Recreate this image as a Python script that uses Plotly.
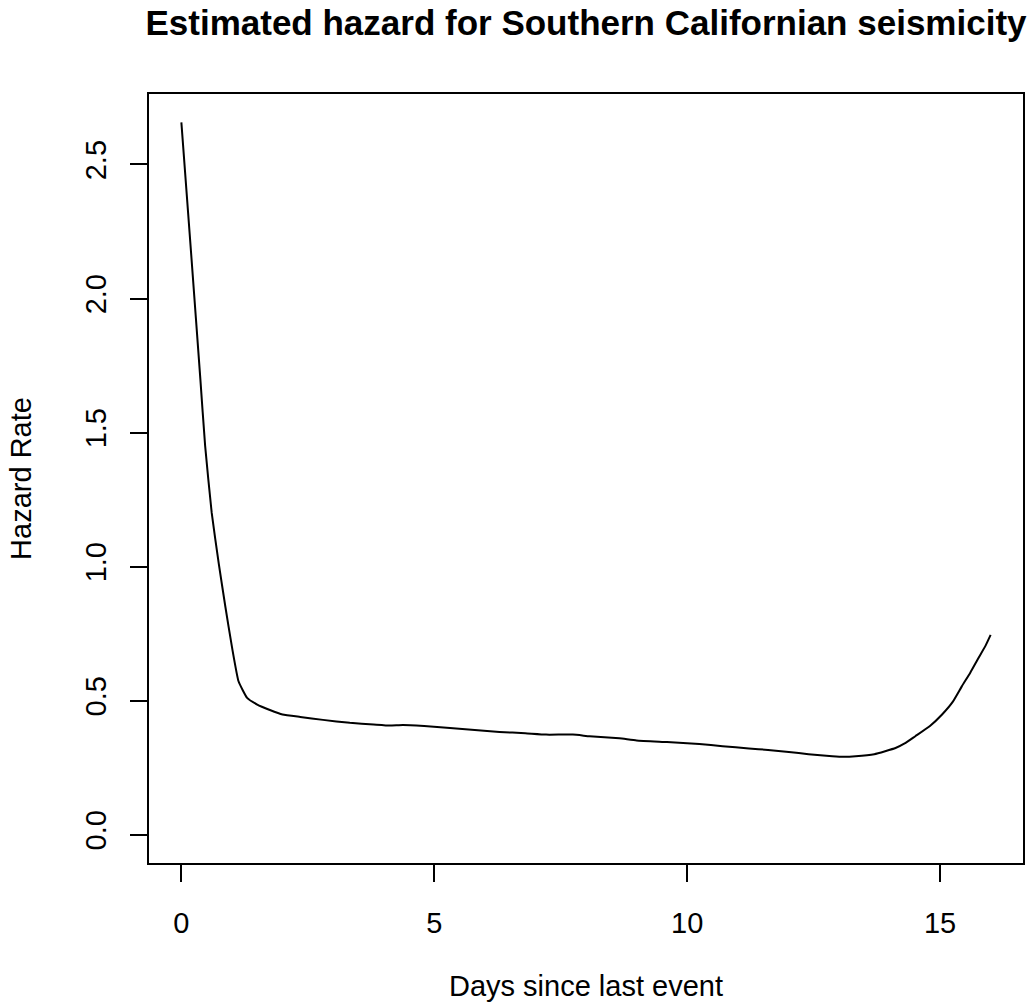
import plotly.graph_objects as go

days = [0, 0.2, 0.375, 0.47, 0.6, 0.74, 0.87, 1.0, 1.13, 1.3, 1.5, 1.75, 2.0, 2.35, 2.8,
        3.33, 3.8, 4.12, 4.38, 4.8, 5.31, 5.8, 6.29, 6.8, 7.21, 7.74, 8.07, 8.66, 9.0,
        9.6, 10.24, 10.7, 11.22, 11.6, 12.01, 12.4, 12.87, 13.1, 13.33, 13.7, 14.12,
        14.3, 14.51, 14.8, 15.04, 15.25, 15.43, 15.6, 15.76, 15.9, 16.0]
hazard = [2.657, 2.15, 1.70, 1.45, 1.20, 1.01, 0.85, 0.70, 0.572, 0.51, 0.485, 0.465,
          0.448, 0.439, 0.428, 0.417, 0.411, 0.407, 0.409, 0.405, 0.398, 0.390, 0.383,
          0.378, 0.373, 0.373, 0.367, 0.359, 0.351, 0.345, 0.338, 0.330, 0.321, 0.316,
          0.308, 0.300, 0.292, 0.290, 0.292, 0.300, 0.323, 0.340, 0.367, 0.405, 0.448,
          0.495, 0.553, 0.605, 0.659, 0.705, 0.745]

x_ticks = [0, 5, 10, 15]
x_tick_labels = ["0", "5", "10", "15"]
y_ticks = [0.0, 0.5, 1.0, 1.5, 2.0, 2.5]
y_tick_labels = ["0.0", "0.5", "1.0", "1.5", "2.0", "2.5"]

FONT = "Liberation Sans, Arial, Helvetica, sans-serif"

fig = go.Figure()
fig.add_trace(go.Scatter(x=days, y=hazard, mode="lines",
                         line=dict(color="black", width=2, shape="spline", smoothing=0.4),
                         showlegend=False, hoverinfo="skip"))

fig.update_layout(
    width=1028, height=1007,
    paper_bgcolor="white", plot_bgcolor="white",
    margin=dict(l=149, r=3, t=94, b=144),
    font=dict(family=FONT, size=29, color="black"),
    title=dict(text="<b>Estimated hazard for Southern Californian seismicity</b>",
               x=0.5, xref="paper", xanchor="center",
               y=1 - 23 / 1007, yref="container", yanchor="middle",
               font=dict(family=FONT, size=35, color="black")),
)

fig.update_xaxes(
    range=[-0.64, 16.64], tickmode="array", tickvals=x_ticks, ticktext=x_tick_labels,
    ticks="outside", ticklen=17, tickwidth=2, tickcolor="black",
    showline=True, linecolor="black", linewidth=2, mirror=True,
    showgrid=False, zeroline=False,
    ticklabelstandoff=16,
    title=dict(text="Days since last event", standoff=38, font=dict(size=29)),
)
fig.update_yaxes(
    range=[-0.106, 2.763], tickmode="array", tickvals=y_ticks, ticktext=y_tick_labels,
    ticks="outside", ticklen=17, tickwidth=2, tickcolor="black", tickangle=-90,
    showline=True, linecolor="black", linewidth=2, mirror=True,
    showgrid=False, zeroline=False,
    ticklabelstandoff=12,
    title=dict(text="Hazard Rate", standoff=40, font=dict(size=29)),
)

fig.write_html("out.html")
